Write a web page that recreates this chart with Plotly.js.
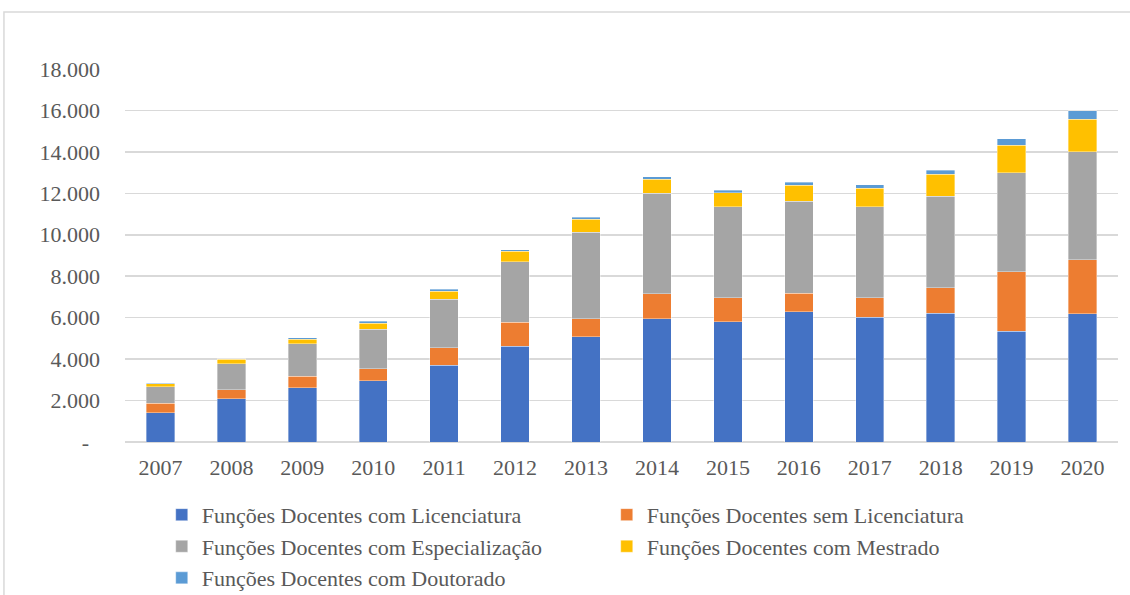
<!DOCTYPE html>
<html>
<head>
<meta charset="utf-8">
<script src="https://cdn.plot.ly/plotly-3.0.1.min.js"></script>
<style>
  body { margin: 0; background: #fff; }
  #graph { width: 1130px; height: 595px; }
</style>
</head>
<body>
<div id="graph"></div>
<script>
// ======================
// DATA
// ======================

const years = ['2007', '2008', '2009', '2010', '2011', '2012', '2013',
               '2014', '2015', '2016', '2017', '2018', '2019', '2020'];

const comLicenciatura = [1420, 2090, 2625, 2960, 3715, 4630, 5070, 5955, 5800, 6290, 6030, 6225, 5355, 6180];
const semLicenciatura = [460, 440, 560, 580, 840, 1160, 870, 1205, 1160, 900, 940, 1225, 2870, 2625];
const comEspecializacao = [790, 1255, 1565, 1910, 2345, 2915, 4185, 4840, 4400, 4440, 4390, 4420, 4760, 5190];
const comMestrado = [130, 210, 220, 290, 385, 510, 630, 690, 680, 770, 885, 1045, 1335, 1580];
const comDoutorado = [40, 20, 65, 80, 80, 70, 80, 115, 100, 145, 180, 210, 305, 400];

const seriesNames = [
    'Funções Docentes com Licenciatura',
    'Funções Docentes sem Licenciatura',
    'Funções Docentes com Especialização',
    'Funções Docentes com Mestrado',
    'Funções Docentes com Doutorado'
];
const seriesColors = ['#4472C4', '#ED7D31', '#A5A5A5', '#FFC000', '#5B9BD5'];

const yTickVals = [0, 2000, 4000, 6000, 8000, 10000, 12000, 14000, 16000, 18000];
const yTickText = ['-\u00a0\u00a0', '2.000', '4.000', '6.000', '8.000', '10.000',
                   '12.000', '14.000', '16.000', '18.000'];

// ======================
// CHART
// ======================

const seriesValues = [comLicenciatura, semLicenciatura, comEspecializacao, comMestrado, comDoutorado];

const traces = seriesValues.map((vals, i) => ({
    type: 'bar',
    x: years,
    y: vals,
    name: seriesNames[i],
    marker: { color: seriesColors[i], line: { color: 'rgba(255,255,255,0.6)', width: 0.6 } },
    hoverinfo: 'x+y+name'
}));

const SERIF = 'Liberation Serif, Times New Roman, serif';
const makeFont = () => ({ family: SERIF, size: 22, color: '#595959' });

const layout = {
    barmode: 'stack',
    bargap: 0.6,
    font: makeFont(),
    paper_bgcolor: '#ffffff',
    plot_bgcolor: '#ffffff',
    margin: { l: 125, r: 12, t: 69, b: 153, autoexpand: false },
    xaxis: {
        type: 'category',
        showgrid: false,
        showline: false,
        zeroline: false,
        ticks: '',
        tickfont: makeFont(),
        ticklabelstandoff: 10
    },
    yaxis: {
        range: [0, 18000],
        tickvals: yTickVals,
        ticktext: yTickText,
        showgrid: true,
        gridcolor: '#d9d9d9',
        gridwidth: 1.5,
        zeroline: true,
        zerolinecolor: '#d9d9d9',
        zerolinewidth: 1.5,
        showline: false,
        ticks: '',
        tickfont: makeFont(),
        ticklabelstandoff: 24
    },
    legend: {
        orientation: 'h',
        x: 0.037,
        xanchor: 'left',
        y: -0.139,
        yanchor: 'top',
        entrywidth: 400,
        entrywidthmode: 'pixels',
        itemwidth: 30,
        traceorder: 'normal',
        font: makeFont()
    },
    shapes: [{
        type: 'path',
        xref: 'paper',
        yref: 'paper',
        path: 'M -0.1219,-0.5 L -0.1219,1.1528 L 1.2,1.1528',
        line: { color: '#d9d9d9', width: 1.5 },
        layer: 'below'
    }],
    showlegend: true
};

Plotly.newPlot('graph', traces, layout, { displayModeBar: false, staticPlot: true });
</script>
</body>
</html>
